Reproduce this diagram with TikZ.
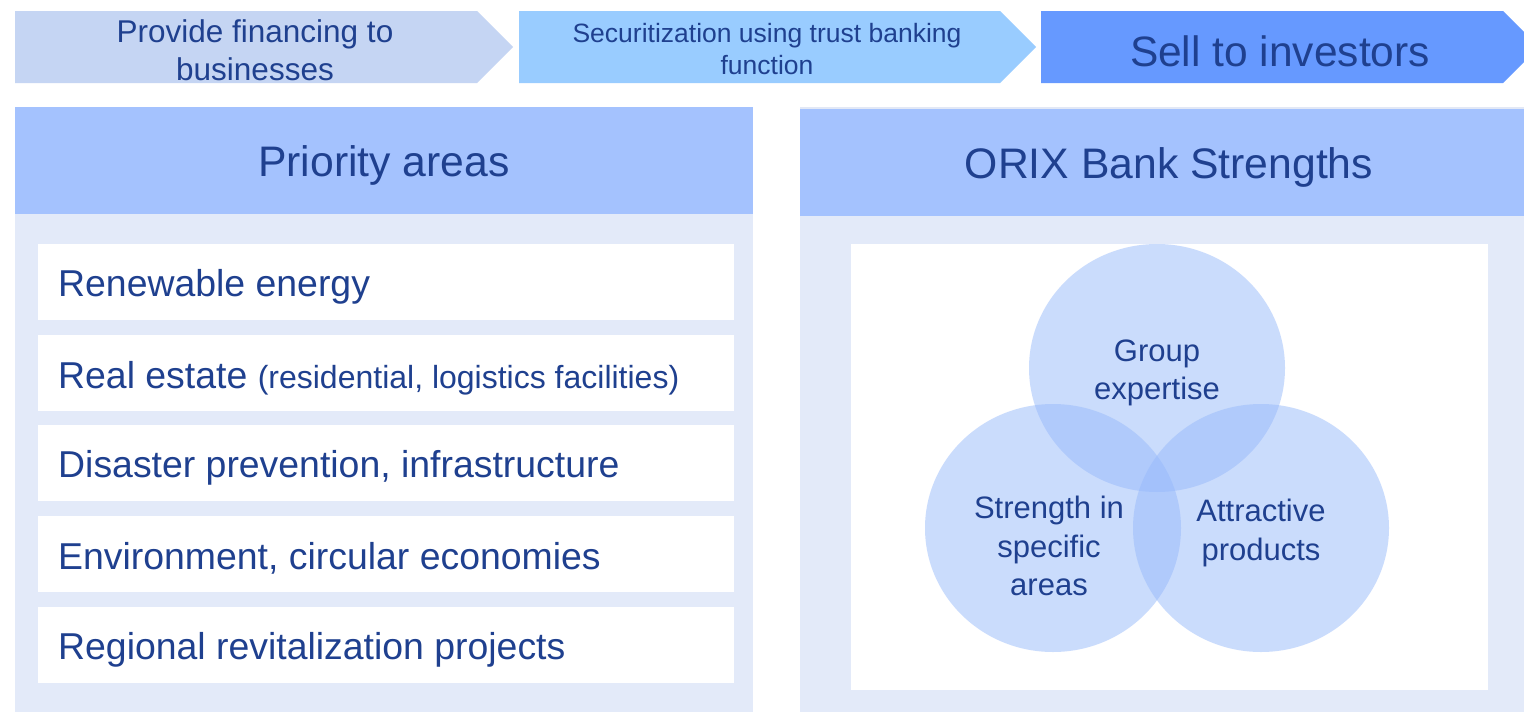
\documentclass[tikz,border=0pt]{standalone}
\usepackage{fontspec}
\setmainfont{Liberation Sans}
\definecolor{txtblue}{RGB}{31,64,143}
\definecolor{chevA}{RGB}{197,213,243}
\definecolor{chevB}{RGB}{153,204,255}
\definecolor{chevC}{RGB}{102,153,255}
\definecolor{hdrblue}{RGB}{164,194,254}
\definecolor{bodyblue}{RGB}{227,234,249}
\definecolor{vennfill}{RGB}{151,186,251}
\definecolor{topline}{RGB}{226,232,246}
\tikzset{
  chevtext/.style={text=txtblue, align=center, inner sep=0pt},
  hdrtext/.style={text=txtblue, font=\fontsize{42.7}{50}\selectfont, inner sep=0pt},
  itemtext/.style={text=txtblue, font=\fontsize{37.4}{44}\selectfont, anchor=west, inner sep=0pt},
  whitebox/.style={fill=white, draw=none},
  venncircle/.style={fill=vennfill, fill opacity=0.5, draw=none},
  venntext/.style={text=txtblue, font=\fontsize{31}{38.5}\selectfont, align=center, inner sep=0pt}
}
\begin{document}
\begin{tikzpicture}[x=1pt,y=-1pt]
\useasboundingbox (0,0) rectangle (1524,712);
\clip (0,0) rectangle (1524,712);
\fill[white] (0,0) rectangle (1524,712);
% chevrons
\fill[chevA] (15,11) -- (477,11) -- (513,47) -- (477,83) -- (15,83) -- cycle;
\fill[chevB] (519,11) -- (1000,11) -- (1036,47) -- (1000,83) -- (519,83) -- cycle;
\fill[chevC] (1041,11) -- (1503,11) -- (1539,47) -- (1503,83) -- (1041,83) -- cycle;
\node[chevtext, font=\fontsize{31.5}{38}\selectfont] (c1) at (255,50) {Provide financing to\\businesses};
\node[chevtext, font=\fontsize{26.5}{32}\selectfont] (c2) at (767,49) {Securitization using trust banking\\function};
\node[chevtext, font=\fontsize{42.5}{50}\selectfont] (c3) at (1280,51) {Sell to investors};
% left panel
\fill[hdrblue] (15,107) rectangle (753,214);
\fill[bodyblue] (15,214) rectangle (753,712);
\node[hdrtext] (lh) at (384,165) {Priority areas};
\fill[whitebox] (38,244) rectangle (734,320);
\fill[whitebox] (38,335) rectangle (734,411);
\fill[whitebox] (38,425) rectangle (734,501);
\fill[whitebox] (38,516) rectangle (734,592);
\fill[whitebox] (38,607) rectangle (734,683);
\node[itemtext] (i1) at (58,287) {Renewable energy};
\node[itemtext] (i2) at (58,378) {Real estate {\fontsize{32}{38}\selectfont (residential, logistics facilities)}};
\node[itemtext] (i3) at (58,468) {Disaster prevention, infrastructure};
\node[itemtext] (i4) at (58,558) {Environment, circular economies};
\node[itemtext] (i5) at (58,650) {Regional revitalization projects};
% right panel
\fill[topline] (800,107) rectangle (1524,109);
\fill[hdrblue] (800,109) rectangle (1524,216);
\fill[bodyblue] (800,216) rectangle (1524,712);
\node[hdrtext] (rh) at (1169,167) {ORIX Bank Strengths};
\fill[whitebox] (851,244) rectangle (1488,690);
% venn
\fill[venncircle] (1157,368) ellipse [x radius=128, y radius=124];
\fill[venncircle] (1053,528) ellipse [x radius=128, y radius=124];
\fill[venncircle] (1261,528) ellipse [x radius=128, y radius=124];
\node[venntext] (v1) at (1157,373) {Group\\expertise};
\node[venntext] (v2) at (1049,546) {Strength in\\specific\\areas};
\node[venntext] (v3) at (1261,533) {Attractive\\products};
\end{tikzpicture}
\end{document}
